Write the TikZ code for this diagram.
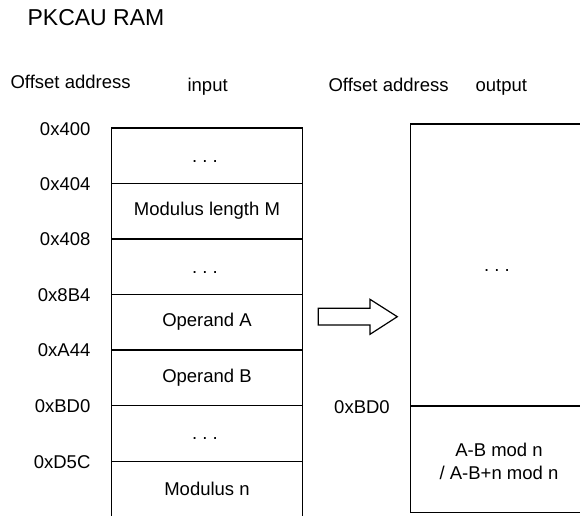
\documentclass[tikz,border=0pt]{standalone}
\usepackage{fontspec}
\setmainfont{Liberation Sans}
\begin{document}
\begin{tikzpicture}[x=1pt,y=-1pt,line width=1.2pt,
  lbl/.style={font=\fontsize{18.5}{23}\selectfont,inner sep=0pt},
  addr/.style={lbl,anchor=east},
  celltext/.style={lbl,anchor=center,align=center},
  heading/.style={lbl,anchor=base west},
  blockarrow/.style={draw,line width=1.2pt,line join=miter,fill=white}]
\useasboundingbox (0,0) rectangle (580,515);
\newcommand{\celldots}{\vphantom{A}.\ .\ .}

% title and headings
\node[heading,font=\fontsize{23}{27}\selectfont] (title) at (27,25) {PKCAU RAM};
\node[heading] (offL) at (10,88) {Offset address};
\node[heading] (inp) at (187,91.5) {input};
\node[heading] (offR) at (328,91.5) {Offset address};
\node[heading] (outp) at (475,91.5) {output};

% input memory box
\draw (111.5,516) -- (111.5,128) -- (302.5,128) -- (302.5,516);
\foreach \yy in {183.5,239,294.5,350,405.7,461.3}
  \draw (111.5,\yy) -- (302.5,\yy);

% addresses
\node[addr] (a400) at (91,129) {0x400};
\node[addr] (a404) at (91,184) {0x404};
\node[addr] (a408) at (91,239.5) {0x408};
\node[addr] (a8B4) at (91,295) {0x8B4};
\node[addr] (aA44) at (91,350.5) {0xA44};
\node[addr] (aBD0) at (91,406.5) {0xBD0};
\node[addr] (aD5C) at (91,462) {0xD5C};

% cell contents
\node[celltext] (c1) at (205,155.8) {\celldots};
\node[celltext] (c2) at (207,211.2) {Modulus length M};
\node[celltext] (c3) at (205,266.8) {\celldots};
\node[celltext] (c4) at (207,322.2) {Operand A};
\node[celltext] (c5) at (207,377.8) {Operand B};
\node[celltext] (c6) at (205,433.5) {\celldots};
\node[celltext] (c7) at (207,489) {Modulus n};

% block arrow
\draw[blockarrow] (318.3,308.3) -- (370,308.3) -- (370,299.3) -- (397.3,316.7)
  -- (370,334.3) -- (370,325) -- (318.3,325) -- cycle;

% output memory box
\draw (584,124) -- (410.7,124) -- (410.7,512.7) -- (584,512.7);
\draw (410.7,406) -- (584,406);
\node[lbl,anchor=center] (oBD0) at (362,407.5) {0xBD0};
\node[celltext] (o1) at (497,265) {\celldots};
\node[celltext] (o2) at (499,461.5) {A-B mod n\\/ A-B+n mod n};
\end{tikzpicture}
\end{document}
